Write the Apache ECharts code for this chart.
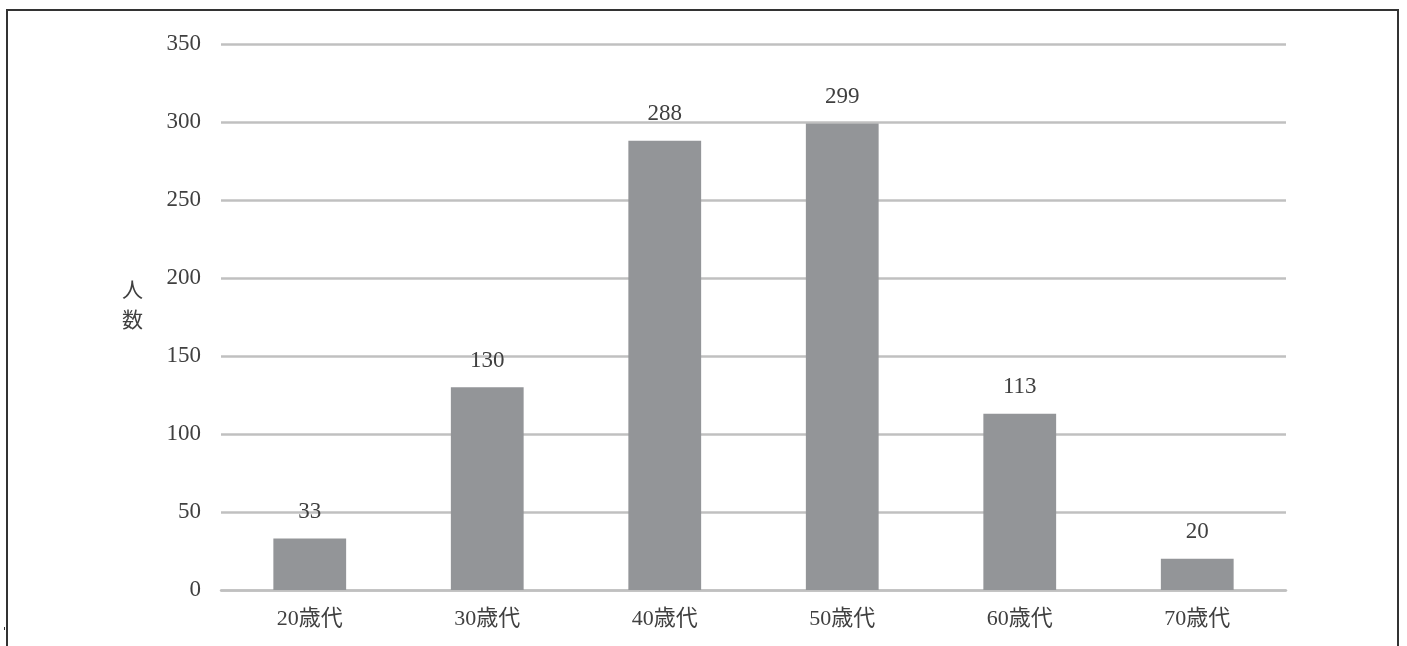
<!DOCTYPE html>
<html>
<head>
<meta charset="utf-8">
<script src="https://cdn.jsdelivr.net/npm/echarts@6/dist/echarts.min.js"></script>
<style>
  html, body { margin: 0; padding: 0; background: #fff; }
  #chart { width: 1407px; height: 646px; }
</style>
</head>
<body>
<div id="chart"></div>
<script>
// Respondents by age group
const ageGroups = ['20歳代', '30歳代', '40歳代', '50歳代', '60歳代', '70歳代'];
const counts = [33, 130, 288, 299, 113, 20];
const yAxisTitle = '人\n数';

const FONT = '"Liberation Serif", "DejaVu Serif", "Noto Sans CJK JP", serif';
const GRID_COLOR = '#c0c0c0';
const TEXT_COLOR = '#404040';

const chart = echarts.init(document.getElementById('chart'));
chart.setOption({
  animation: false,
  backgroundColor: '#ffffff',
  grid: { left: 221, right: 121, top: 44, bottom: 56, containLabel: false },
  xAxis: {
    type: 'category',
    data: ageGroups,
    axisLine: { show: true, lineStyle: { color: GRID_COLOR, width: 2.5 } },
    axisTick: { show: false },
    axisLabel: { color: TEXT_COLOR, fontFamily: FONT, fontSize: 22, margin: 18 }
  },
  yAxis: {
    type: 'value',
    min: 0,
    max: 350,
    interval: 50,
    axisLine: { show: false },
    axisTick: { show: false },
    splitLine: { lineStyle: { color: GRID_COLOR, width: 2.5 } },
    axisLabel: { color: TEXT_COLOR, fontFamily: FONT, fontSize: 23, margin: 20 }
  },
  series: [{
    type: 'bar',
    data: counts,
    barWidth: '41%',
    itemStyle: { color: '#939598' },
    label: {
      show: true,
      position: 'top',
      distance: 15,
      color: TEXT_COLOR,
      fontFamily: FONT,
      fontSize: 23
    }
  }],
  graphic: [
    {
      type: 'rect',
      shape: { x: 7, y: 10, width: 1391, height: 700 },
      style: { fill: 'none', stroke: '#333333', lineWidth: 2 },
      silent: true
    },
    {
      type: 'rect',
      shape: { x: 4, y: 627, width: 1, height: 3 },
      style: { fill: '#333333' },
      silent: true
    },
    {
      type: 'text',
      left: 122,
      top: 274,
      style: {
        text: yAxisTitle,
        fill: TEXT_COLOR,
        font: '21px "Noto Sans CJK JP", sans-serif',
        lineHeight: 30
      }
    }
  ]
});
</script>
</body>
</html>
